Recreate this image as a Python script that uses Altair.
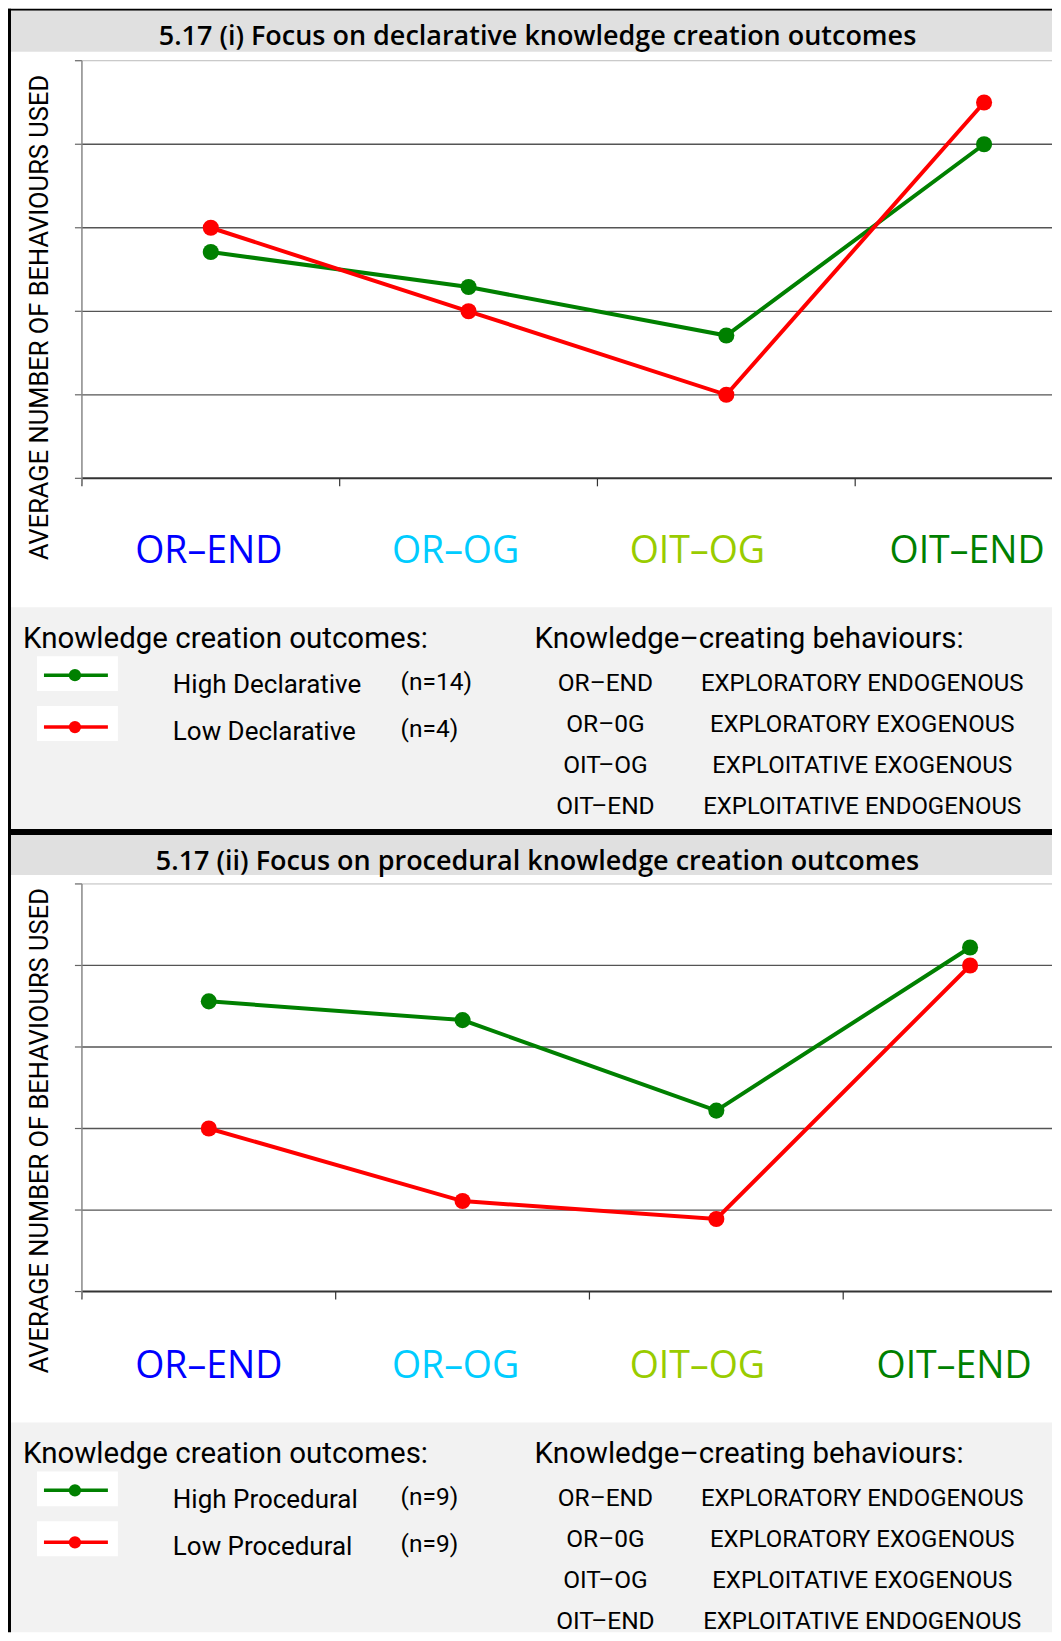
import altair as alt
import pandas as pd

# ---------------- data ----------------
categories = ["OR–END", "OR–OG", "OIT–OG", "OIT–END"]
cat_colors = ["#0000FF", "#00CCFF", "#99CC00", "#008000"]

high_decl = [2.71, 2.29, 1.71, 4.0]
low_decl = [3.0, 2.0, 1.0, 4.5]
high_proc = [3.56, 3.33, 2.22, 4.22]
low_proc = [2.0, 1.11, 0.89, 4.0]

abbrevs = ["OR–END", "OR–0G", "OIT–OG", "OIT–END"]
descriptions = ["EXPLORATORY ENDOGENOUS", "EXPLORATORY EXOGENOUS",
                "EXPLOITATIVE EXOGENOUS", "EXPLOITATIVE ENDOGENOUS"]

grid_values = [1, 2, 3, 4]
tick_values = [0, 1, 2, 3, 4, 5]
x_tick_values = [-0.5, 0.5, 1.5, 2.5]

GREEN = "#008000"
RED = "#FF0000"

# ---------------- layout ----------------
W, H = 1045, 1625
PLOT_X0 = 74
TXT = "Roboto, sans-serif"
HEAD = "Open Sans, sans-serif"

dummy = pd.DataFrame({"a": [0]})


def rect(x, x2, y, y2, color):
    return alt.Chart(dummy).mark_rect(color=color).encode(
        x=alt.value(x), x2=alt.value(x2), y=alt.value(y), y2=alt.value(y2))


def text(s, x, y, size, font=TXT, align="left", color="#000000", weight="normal", angle=0):
    kw = dict(text=s, font=font, fontSize=size, align=align, baseline="middle",
              color=color, fontWeight=weight)
    if angle:
        kw["angle"] = angle
    return alt.Chart(dummy).mark_text(**kw).encode(x=alt.value(x), y=alt.value(y))


def panel(high, low, names, y_top, y_bot, x_end, label_xs, label_y):
    xs = alt.Scale(domain=[-0.5, 3.5], range=[PLOT_X0, x_end])
    ys = alt.Scale(domain=[0, 5], range=[y_bot, y_top])
    df = pd.DataFrame({
        "idx": list(range(4)) * 2,
        "value": high + low,
        "series": [names[0]] * 4 + [names[1]] * 4,
    })
    color = alt.Color("series:N", scale=alt.Scale(domain=names, range=[GREEN, RED]), legend=None)
    grid = alt.Chart(pd.DataFrame({"v": grid_values})).mark_rule(color="#555555", strokeWidth=1.3).encode(
        y=alt.Y("v:Q", scale=ys, axis=None), x=alt.value(PLOT_X0), x2=alt.value(W))
    top = alt.Chart(pd.DataFrame({"v": [5]})).mark_rule(color="#BBBBBB", strokeWidth=1).encode(
        y=alt.Y("v:Q", scale=ys, axis=None), x=alt.value(PLOT_X0), x2=alt.value(W))
    bottom = alt.Chart(pd.DataFrame({"v": [0]})).mark_rule(color="#333333", strokeWidth=2).encode(
        y=alt.Y("v:Q", scale=ys, axis=None), x=alt.value(PLOT_X0), x2=alt.value(W))
    yticks = alt.Chart(pd.DataFrame({"v": tick_values})).mark_rule(color="#666666", strokeWidth=1.2).encode(
        y=alt.Y("v:Q", scale=ys, axis=None), x=alt.value(PLOT_X0 - 7), x2=alt.value(PLOT_X0))
    xticks = alt.Chart(pd.DataFrame({"t": x_tick_values})).mark_rule(color="#333333", strokeWidth=1.2).encode(
        x=alt.X("t:Q", scale=xs, axis=None), y=alt.value(y_bot), y2=alt.value(y_bot + 8))
    yline = alt.Chart(dummy).mark_rule(color="#888888", strokeWidth=1.5).encode(
        x=alt.value(PLOT_X0), y=alt.value(y_top), y2=alt.value(y_bot + 6))
    lines = alt.Chart(df).mark_line(strokeWidth=4).encode(
        x=alt.X("idx:Q", scale=xs, axis=None),
        y=alt.Y("value:Q", scale=ys, axis=None),
        color=color, detail="series:N")
    points = alt.Chart(df).mark_point(filled=True, size=260, opacity=1).encode(
        x=alt.X("idx:Q", scale=xs, axis=None),
        y=alt.Y("value:Q", scale=ys, axis=None),
        color=color)
    labels = [text(c, lx, label_y, 37.5, font=HEAD, align="center", color=cc)
              for c, lx, cc in zip(categories, label_xs, cat_colors)]
    return alt.layer(grid, top, bottom, yticks, xticks, yline, lines, points, *labels)


def legend_block(y0, high_name, low_name, n_high, n_low):
    parts = []
    parts.append(text("Knowledge creation outcomes:", 15, y0 + 1, 29.5))
    parts.append(text("Knowledge–creating behaviours:", 527, y0 + 1, 29.5))
    for k, (col, nm, n) in enumerate([(GREEN, high_name, n_high), (RED, low_name, n_low)]):
        sy = y0 + 18 + k * 50
        ly = y0 + 37 + k * 52
        parts.append(rect(29, 110, sy, sy + 35, "#FFFFFF"))
        parts.append(alt.Chart(dummy).mark_rule(color=col, strokeWidth=3.5).encode(
            x=alt.value(36), x2=alt.value(100), y=alt.value(ly), y2=alt.value(ly)))
        parts.append(alt.Chart(dummy).mark_point(filled=True, size=150, color=col, opacity=1).encode(
            x=alt.value(67), y=alt.value(ly)))
        parts.append(text(nm, 165, ly + 10 - k * 5, 26))
        parts.append(text(n, 393, ly + 8 - k * 5, 24.5))
    for k, (a, d) in enumerate(zip(abbrevs, descriptions)):
        ry = y0 + 45.5 + k * 41
        parts.append(text(a, 598, ry, 24.5, align="center"))
        parts.append(text(d, 855, ry, 24, align="center"))
    return parts


layers = []
# backgrounds
layers.append(rect(0, W, 0, H, "#FFFFFF"))
layers.append(rect(0, W, 0, 2, "#000000"))
layers.append(rect(3, W, 2, 43, "#E0E0E0"))
layers.append(rect(3, W, 599, 821, "#F2F2F2"))
layers.append(rect(0, W, 821, 827, "#000000"))
layers.append(rect(3, W, 827, 867, "#E0E0E0"))
layers.append(rect(3, W, 1415, H, "#F2F2F2"))
layers.append(rect(0, 3, 0, H, "#000000"))

# titles
layers.append(text("5.17 (i) Focus on declarative knowledge creation outcomes", 530, 28.5, 27,
                   font=HEAD, align="center", weight=600))
layers.append(text("5.17 (ii) Focus on procedural knowledge creation outcomes", 530, 854, 27,
                   font=HEAD, align="center", weight=600))
# y-axis titles
layers.append(text("AVERAGE NUMBER OF BEHAVIOURS USED", 32, 309, 25.5, align="center", angle=270))
layers.append(text("AVERAGE NUMBER OF BEHAVIOURS USED", 32, 1123, 25.5, align="center", angle=270))

layers += legend_block(630, "High Declarative", "Low Declarative", "(n=14)", "(n=4)")
layers += legend_block(1446, "High Procedural", "Low Procedural", "(n=9)", "(n=9)")

p1 = panel(high_decl, low_decl, ["High Declarative", "Low Declarative"], 52, 470, 1106,
           [201, 448, 690, 960], 544)
p2 = panel(high_proc, low_proc, ["High Procedural", "Low Procedural"], 876, 1284, 1090,
           [201, 448, 690, 947], 1360)

chart = alt.layer(*layers, p1, p2).resolve_scale(
    x="independent", y="independent", color="independent"
).properties(width=W, height=H, padding=0, background="#FFFFFF").configure_view(stroke=None)

chart.save("out.html", embed_options={"renderer": "svg", "actions": False})
